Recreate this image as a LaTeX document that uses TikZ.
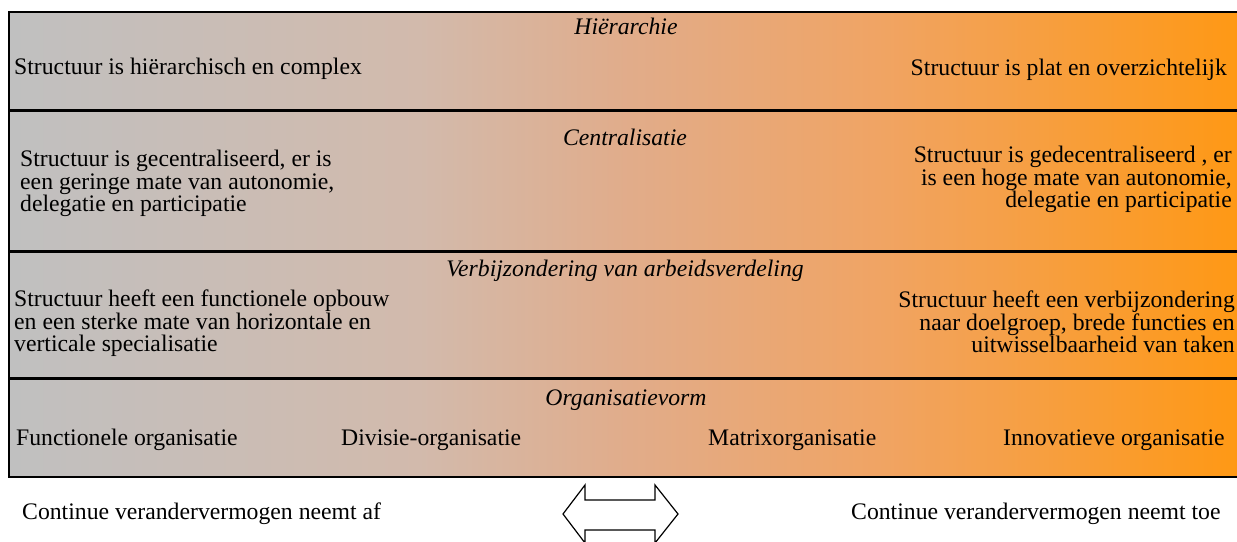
\documentclass[tikz,border=0pt]{standalone}
\usepackage{fontspec}
\setmainfont{Liberation Serif}
\definecolor{gL}{RGB}{192,192,192}
\definecolor{gA}{RGB}{210,186,172}
\definecolor{gB}{RGB}{225,172,138}
\definecolor{gC}{RGB}{240,164,100}
\definecolor{gR}{RGB}{255,152,18}
\pgfdeclarehorizontalshading{bandshade}{100bp}{%
  color(0bp)=(gL); color(25bp)=(gL); color(41.5bp)=(gA); color(50bp)=(gB);
  color(60bp)=(gC); color(75bp)=(gR); color(100bp)=(gR)}
\tikzset{
  band/.style={draw=black, line width=1.3bp, shading=bandshade},
  txt/.style={inner sep=0pt, font=\fontsize{23.8}{22.7}\selectfont},
  ttl/.style={txt, anchor=base, font=\fontsize{23.8}{22.7}\selectfont\itshape},
  lt/.style={txt, anchor=base west, align=left},
  rt/.style={txt, anchor=base east, align=right},
  blockarrow/.style={draw=black, line width=1.2bp, fill=white, line join=miter},
}
\begin{document}
\begin{tikzpicture}[x=1bp, y=-1bp]
\useasboundingbox (0,0) rectangle (1237,542);
% bands
\path[band] (9,12) rectangle (1250,110);
\path[band] (9,111) rectangle (1250,251);
\path[band] (9,252) rectangle (1250,378);
\path[band] (9,379) rectangle (1250,477);
% band 1
\node[ttl] (t1) at (626,35) {Hiërarchie};
\node[lt] (l1) at (14,75) {Structuur is hiërarchisch en complex};
\node[rt] (r1) at (1227,76) {Structuur is plat en overzichtelijk};
% band 2 (base = last line)
\node[ttl] (t2) at (625,146) {Centralisatie};
\node[lt] (l2) at (20,212) {Structuur is gecentraliseerd, er is\\een geringe mate van autonomie,\\delegatie en participatie};
\node[rt] (r2) at (1232,208) {Structuur is gedecentraliseerd , er\\is een hoge mate van autonomie,\\delegatie en participatie};
% band 3
\node[ttl] (t3) at (625,277) {Verbijzondering van arbeidsverdeling};
\node[lt] (l3) at (14,352) {Structuur heeft een functionele opbouw\\en een sterke mate van horizontale en\\verticale specialisatie};
\node[rt] (r3) at (1235,353) {Structuur heeft een verbijzondering\\naar doelgroep, brede functies en\\uitwisselbaarheid van taken};
% band 4
\node[ttl] (t4) at (626,405) {Organisatievorm};
\node[lt] (o1) at (16,445) {Functionele organisatie};
\node[lt] (o2) at (341,445) {Divisie-organisatie};
\node[lt] (o3) at (708,445) {Matrixorganisatie};
\node[lt] (o4) at (1003,445) {Innovatieve organisatie};
% bottom
\node[lt] (b1) at (22,519) {Continue verandervermogen neemt af};
\node[lt] (b2) at (851,519) {Continue verandervermogen neemt toe};
\path[blockarrow] (563,514) -- (585,485) -- (585,500) -- (655,500) -- (655,485)
  -- (678,514) -- (655,543) -- (655,530) -- (585,530) -- (585,543) -- cycle;
\end{tikzpicture}
\end{document}
